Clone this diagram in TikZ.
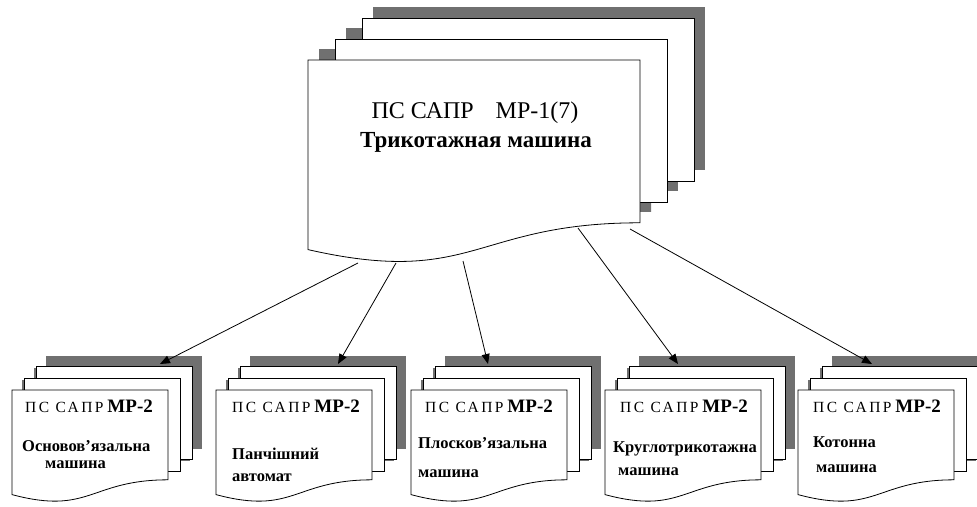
\documentclass[tikz,border=0pt]{standalone}
\usepackage{fontspec}
\setmainfont{Liberation Serif}
\usetikzlibrary{arrows.meta}
\definecolor{shade}{RGB}{112,112,112}
\tikzset{
  sheet/.style={draw=black, line width=0.8pt, fill=white},
  shadowfill/.style={fill=shade},
  link/.style={draw=black, line width=0.8pt, -{Triangle[length=10pt,width=8pt]}},
  toptxt/.style={anchor=base, inner sep=0pt, font=\fontsize{24}{24}\selectfont},
  toptxtb/.style={anchor=base, inner sep=0pt, font=\bfseries\fontsize{23}{23}\selectfont},
  headtxt/.style={anchor=base west, inner sep=0pt, font=\fontsize{15.5}{16}\selectfont},
  nametxt/.style={anchor=base west, inner sep=0pt, font=\bfseries\fontsize{16.5}{17}\selectfont},
}
% front document outline: x, y, W, H
\newcommand\frontdocpath[4]{(#1,#2) -- ({#1+#3},#2) -- ({#1+#3},{#2+0.802*#4}) .. controls ({#1+0.5*#3},{#2+0.802*#4}) and ({#1+0.5*#3},{#2+1.12*#4}) .. (#1,{#2+0.934*#4}) -- cycle}
% multi document: x, y, W, H, dx, dy, shadow, back height
\newcommand\multidocshape[8]{%
  \foreach \k in {2,1}{%
    \fill[shadowfill] ({#1+\k*#5+#7},{#2-\k*#6-#7}) rectangle ++(#3,#8);
  }
  \fill[shadowfill] \frontdocpath{#1+#7}{#2-#7}{#3}{#4};
  \foreach \k in {2,1}{%
    \draw[sheet] ({#1+\k*#5},{#2-\k*#6}) rectangle ++(#3,#8);
  }
  \draw[sheet] \frontdocpath{#1}{#2}{#3}{#4};
}
\newcommand\headline{{\addfontfeature{LetterSpace=16}ПС САПР} {\bfseries\fontsize{19}{19}\selectfont МР-2}}
\begin{document}
\begin{tikzpicture}[x=1pt,y=-1pt]
\useasboundingbox (0,0) rectangle (977,506);
% top multi-document
\multidocshape{308}{60}{332}{203}{27}{21}{11}{163}
\node[toptxt] (toph) at (475,118) {ПС САПР\hspace{22pt}МР-1(7)};
\node[toptxtb] (topn) at (476,147) {Трикотажная машина};
% bottom multi-documents
\foreach \xx in {12,216,411,605,798}{
  \multidocshape{\xx}{390}{156}{112}{12}{12}{10}{93}
}
\node[headtxt] (h1) at (25,412) {\headline};
\node[headtxt] (h2) at (232,412) {\headline};
\node[headtxt] (h3) at (425,412) {\headline};
\node[headtxt] (h4) at (620,412) {\headline};
\node[headtxt] (h5) at (813,412) {\headline};
\node[nametxt] (n1a) at (22,451) {Основов’язальна};
\node[nametxt] (n1b) at (45,468) {машина};
\node[nametxt] (n2a) at (232,459) {Панчішний};
\node[nametxt] (n2b) at (232,481) {автомат};
\node[nametxt] (n3a) at (418,448) {Плосков’язальна};
\node[nametxt] (n3b) at (418,477) {машина};
\node[nametxt] (n4a) at (613,452) {Круглотрикотажна};
\node[nametxt] (n4b) at (618,475) {машина};
\node[nametxt] (n5a) at (813,447) {Котонна};
\node[nametxt] (n5b) at (816,472) {машина};
% connectors
\coordinate (s1) at (358,263); \coordinate (e1) at (160,364);
\coordinate (s2) at (396,263); \coordinate (e2) at (338,364);
\coordinate (s3) at (463,261); \coordinate (e3) at (488,364);
\coordinate (s4) at (578,228); \coordinate (e4) at (678,364);
\coordinate (s5) at (630,229); \coordinate (e5) at (872,364);
\draw[link] (s1) -- (e1);
\draw[link] (s2) -- (e2);
\draw[link] (s3) -- (e3);
\draw[link] (s4) -- (e4);
\draw[link] (s5) -- (e5);
\end{tikzpicture}
\end{document}
